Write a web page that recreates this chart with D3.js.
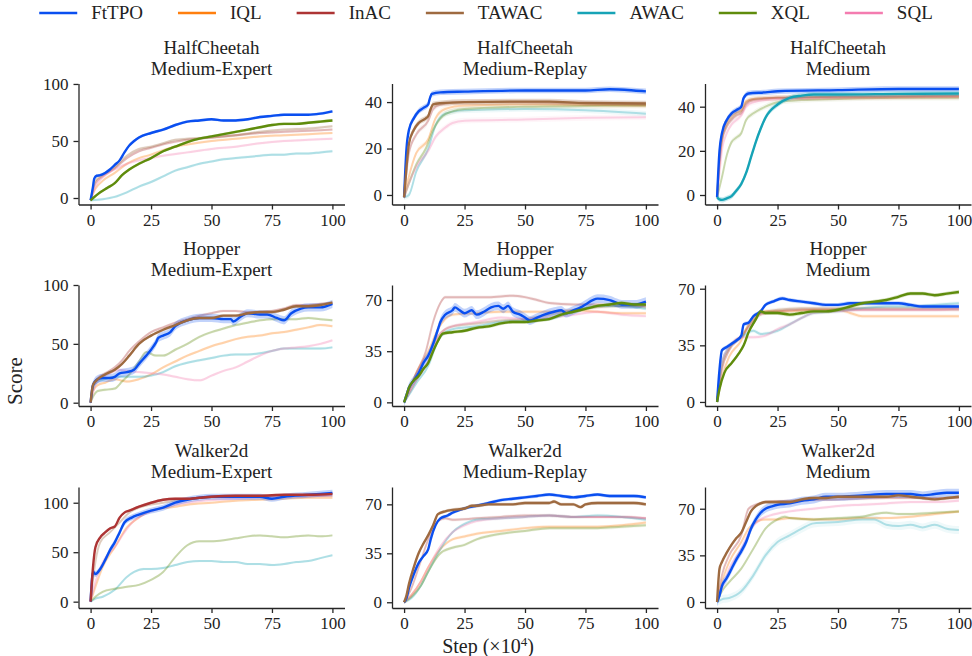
<!DOCTYPE html>
<html>
<head>
<meta charset="utf-8">
<script src="https://cdn.jsdelivr.net/npm/d3@7"></script>
<style>
  body { margin: 0; background: #fff; }
  svg { font-family: "Liberation Serif", "DejaVu Serif", serif; }
</style>
</head>
<body>
<div id="chart"></div>
<script>
// methods and their colours (same order as the legend)
const methods = ["FtTPO", "IQL", "InAC", "TAWAC", "AWAC", "XQL", "SQL"];
const colors = ["#0a4ff0", "#ff7f0e", "#ad3434", "#9e6a40", "#16a3b6", "#5f8c0c", "#f47cb0"];

const envs = ["HalfCheetah", "HalfCheetah", "HalfCheetah", "Hopper", "Hopper", "Hopper", "Walker2d", "Walker2d", "Walker2d"];
const datasets = ["Medium-Expert", "Medium-Replay", "Medium", "Medium-Expert", "Medium-Replay", "Medium", "Medium-Expert", "Medium-Replay", "Medium"];
// the baseline drawn solid next to FtTPO in each panel
const focus = ["XQL", "TAWAC", "AWAC", "TAWAC", "XQL", "XQL", "InAC", "TAWAC", "TAWAC"];
const xTicks = [0, 25, 50, 75, 100];
const yTicks = [[0, 50, 100], [0, 20, 40], [0, 20, 40], [0, 50, 100], [0, 35, 70], [0, 35, 70], [0, 50, 100], [0, 35, 70], [0, 35, 70]];

// [step (x1e4), score]
const hcMediumExpert = {
  FtTPO: [[0,-2],[1,10],[1.5,17],[2.5,19.5],[4,20],[6,22],[8,25],[10,29],[12,33],[14,40],[16,46],[18,50],[20,53],[25,57],[30,60],[35,64],[40,67],[45,68],[50,69],[55,68],[60,68],[65,69],[70,71],[75,72],[80,73],[85,73],[90,73],[95,74],[100,76]],
  IQL: [[0,-2],[2,8],[5,15],[10,22],[15,30],[20,35],[25,38],[30,42],[35,45],[40,47],[50,50],[60,52],[70,54],[80,55],[90,56],[100,57]],
  InAC: [[0,-2],[2,13],[5,19],[10,26],[15,35],[20,41],[25,44],[30,47],[40,51],[50,53],[60,55],[70,57],[80,58],[90,59],[100,60]],
  TAWAC: [[0,-2],[2,15],[5,20],[10,27],[15,37],[20,43],[25,45],[30,48],[35,51],[40,52],[50,53],[60,55],[70,58],[80,60],[90,61],[100,63]],
  AWAC: [[0,-2],[5,-1],[10,1],[15,5],[20,10],[25,14],[30,19],[35,24],[40,27],[45,30],[50,32],[55,34],[60,35],[65,36],[70,37],[75,38],[80,38],[85,39],[90,39],[95,40],[100,41]],
  XQL: [[0,-2],[4,5],[7,9],[10,13],[13,20],[16,25],[20,30],[25,35],[30,41],[35,45],[40,49],[45,52],[50,54],[55,56],[60,58],[65,60],[70,62],[75,64],[80,65],[85,65],[90,66],[95,67],[100,68]],
  SQL: [[0,-2],[2,10],[5,18],[10,25],[15,30],[20,33],[25,35],[30,37],[40,40],[50,43],[60,45],[70,48],[80,50],[90,51],[100,52]]
};
const hcMediumReplay = {
  FtTPO: [[0,-1],[1,20],[2,28],[4,33],[6,36],[8,37.5],[10,39],[10.5,41],[11.5,43.5],[15,44.2],[25,44.5],[50,45],[75,45],[85,45.5],[95,45],[100,44.6]],
  IQL: [[0,-1],[2,8],[5,18],[10,24],[13,33],[17,37],[25,38.5],[50,39],[75,38.8],[100,38.5]],
  InAC: [[0,-1],[1,10],[2,18],[5,26],[10,32],[12,37],[15,39],[25,40],[50,40],[75,39.5],[100,39]],
  TAWAC: [[0,-1],[1,12],[2,22],[4,28],[6,31],[9,33],[10,34],[11,37],[12,39],[15,39.5],[25,40],[50,40.2],[60,40.2],[75,39.6],[100,39.4]],
  AWAC: [[0,-1],[2,0],[5,10],[10,20],[13,30],[17,35],[25,36.5],[50,37],[75,36.5],[100,35]],
  XQL: [[0,-1],[2,5],[5,13],[9,20],[12,28],[16,34],[20,36],[25,37],[50,38],[75,38.3],[100,38.5]],
  SQL: [[0,-1],[2,5],[5,12],[10,19],[13,25],[17,29],[20,31],[25,32],[50,32.5],[75,33.2],[100,33.5]]
};
const hcMedium = {
  FtTPO: [[0,-1],[1,20],[2,28],[4,34],[6,37],[8,38.5],[10,40],[11,44],[13,46],[20,46.5],[25,47],[50,47.5],[75,48],[100,48]],
  IQL: [[0,-1],[1,16],[2,26],[4,33],[6,36],[8,37.5],[10,38.5],[12,42.5],[15,43.5],[25,44],[50,44.2],[100,44.5]],
  InAC: [[0,-1],[1,14],[2,24],[4,31],[6,34],[8,36],[10,37],[12,41],[15,43],[25,44],[50,44.5],[100,45]],
  TAWAC: [[0,-1],[1,15],[2,25],[4,32],[6,35],[8,37],[10,38],[12,42],[15,43.5],[25,44],[50,44.5],[100,45]],
  AWAC: [[0,-1],[1,-2],[2,-2.2],[4,-1.5],[6,-0.5],[8,2],[10,5],[12,10],[14,17],[16,24],[18,30],[20,35],[25,41],[30,44],[35,45],[40,45.5],[50,45.5],[75,45.8],[100,46]],
  XQL: [[0,-1],[2,8],[4,18],[6,24],[8,26],[10,28],[12,34],[15,37],[20,40],[25,42],[35,43],[50,43.5],[75,44],[100,44]],
  SQL: [[0,-1],[1,10],[2,20],[4,28],[6,32],[8,34],[10,36],[12,40],[15,42],[25,43.5],[50,44],[100,44.5]]
};
const hopperMediumExpert = {
  FtTPO: [[0,0],[1,15],[3,20],[5,21],[8,21],[10,22],[12,25],[15,26],[18,28],[20,33],[23,40],[25,45],[27,51],[28,55],[30,57],[33,60],[35,65],[40,70],[45,72],[50,72],[55,71],[58,71],[59,69],[62,73],[65,76],[70,75],[73,75],[77,72],[80,70],[83,76],[87,80],[90,81],[95,81],[100,84]],
  IQL: [[0,0],[1,10],[3,15],[6,17],[10,20],[15,18],[20,20],[25,24],[30,30],[35,35],[40,40],[45,44],[50,48],[55,51],[60,54],[65,56],[70,57],[75,59],[80,60],[85,62],[90,64],[95,66],[100,65]],
  InAC: [[0,0],[1,15],[3,21],[6,25],[10,30],[13,36],[16,44],[20,52],[25,60],[30,64],[35,68],[40,71],[45,74],[50,76],[55,78],[60,78],[65,77],[70,77],[75,78],[80,80],[85,83],[90,83],[95,84],[100,85]],
  TAWAC: [[0,0],[1,15],[3,20],[6,24],[10,28],[13,33],[16,40],[20,50],[25,57],[30,62],[35,66],[40,70],[45,72],[50,72],[55,74],[60,74],[65,76],[70,77],[75,77],[80,79],[85,82],[90,82],[95,83],[100,85]],
  AWAC: [[0,0],[1,12],[3,18],[6,20],[10,22],[15,22],[20,22],[25,23],[30,26],[35,31],[40,34],[45,36],[50,38],[55,40],[60,41],[65,41],[70,42],[75,44],[80,46],[85,46],[90,46],[95,46],[100,47]],
  XQL: [[0,0],[1,5],[3,10],[6,11],[10,12],[13,18],[16,24],[20,35],[23,43],[27,40],[30,40],[35,45],[40,50],[45,56],[50,60],[55,63],[60,66],[65,68],[70,70],[75,71],[80,71],[85,71],[90,72],[95,71],[100,70]],
  SQL: [[0,0],[2,15],[4,20],[8,25],[12,28],[15,27],[20,26],[25,25],[30,24],[35,22],[40,20],[45,19],[50,23],[55,27],[60,30],[65,35],[70,40],[75,44],[80,46],[85,47],[90,48],[95,50],[100,53]]
};
const hopperMediumReplay = {
  FtTPO: [[0,0],[1,5],[2,10],[4,15],[6,20],[8,27],[10,32],[12,40],[14,50],[15,55],[17,60],[20,63],[21,65],[23,63],[25,61],[28,63],[30,60],[33,62],[36,65],[39,66],[41,64],[43,66],[45,62],[48,60],[50,58],[52,56],[55,58],[58,60],[62,62],[65,63],[67,61],[70,63],[73,65],[75,67],[78,70],[80,71],[85,70],[88,68],[90,67],[95,67],[100,69]],
  IQL: [[0,0],[2,8],[5,20],[10,35],[14,50],[17,57],[20,60],[30,61],[40,62],[50,62],[60,62],[70,63],[80,62],[90,61],[100,61]],
  InAC: [[0,0],[2,8],[5,20],[9,35],[12,55],[15,68],[17,72],[25,72],[35,72],[45,73],[50,72],[55,70],[60,68],[70,67],[80,67],[90,66],[100,66]],
  TAWAC: [[0,0],[2,6],[5,15],[10,28],[14,45],[17,50],[20,52],[30,54],[40,56],[50,57],[60,60],[70,63],[80,65],[90,66],[100,65]],
  AWAC: [[0,0],[2,5],[5,13],[10,25],[14,42],[17,48],[20,50],[30,52],[40,55],[50,56],[60,57],[70,62],[80,66],[90,66],[100,64]],
  XQL: [[0,0],[1,5],[2,10],[4,15],[6,18],[8,23],[10,27],[12,35],[14,42],[16,47],[20,48],[25,49],[30,51],[35,52],[40,54],[45,55],[50,55],[55,56],[60,57],[65,60],[70,62],[75,64],[80,66],[85,67],[90,68],[95,67],[100,67]],
  SQL: [[0,0],[2,6],[5,15],[10,28],[14,45],[17,50],[20,52],[30,55],[40,58],[50,57],[60,58],[70,60],[80,62],[90,60],[100,59]]
};
const hopperMedium = {
  FtTPO: [[0,0],[1,20],[2,32],[4,34],[6,36],[8,38],[10,41],[11,48],[13,49],[15,53],[18,56],[20,60],[23,62],[27,64],[30,63],[35,62],[40,61],[45,60],[50,60],[55,61],[60,61],[65,61],[70,61],[75,61],[80,60],[85,59],[90,59],[95,59],[100,59]],
  IQL: [[0,0],[2,15],[5,28],[10,38],[13,48],[16,53],[20,56],[30,56],[40,57],[50,57],[55,55],[60,53],[70,53],[80,53],[90,53],[100,53]],
  InAC: [[0,0],[2,20],[5,32],[10,40],[14,48],[18,54],[25,56],[35,57],[50,57],[60,57],[70,57],[80,57],[90,57],[100,57]],
  TAWAC: [[0,0],[2,22],[5,33],[10,41],[14,49],[18,55],[25,57],[35,58],[50,58],[60,58],[70,58],[80,58],[90,58],[100,58]],
  AWAC: [[0,0],[2,25],[5,34],[10,40],[15,44],[18,42],[25,44],[30,48],[35,52],[40,55],[50,56],[60,58],[70,59],[80,59],[90,60],[100,61]],
  XQL: [[0,0],[1,8],[3,18],[6,24],[9,30],[11,35],[13,43],[16,51],[18,56],[20,55],[25,55],[30,54],[35,55],[40,56],[45,56],[50,57],[55,59],[60,61],[65,62],[70,63],[75,65],[80,67],[85,67],[90,66],[95,67],[100,68]],
  SQL: [[0,0],[2,25],[5,34],[10,40],[15,40],[20,41],[25,45],[30,48],[35,52],[40,55],[50,56],[60,57],[70,57],[80,57],[90,57],[100,58]]
};
const walkerMediumExpert = {
  FtTPO: [[0,0],[1,30],[2,28],[4,33],[6,42],[8,52],[10,60],[12,70],[14,80],[17,85],[20,88],[25,92],[30,95],[35,100],[40,103],[45,105],[50,106],[60,106],[70,106],[75,104],[80,106],[90,108],[100,110]],
  IQL: [[0,0],[2,15],[5,35],[10,55],[15,75],[20,85],[25,92],[35,96],[40,98],[50,100],[60,102],[70,103],[80,104],[90,105],[100,105]],
  InAC: [[0,0],[1,35],[2,55],[4,65],[6,70],[8,74],[10,76],[12,85],[14,90],[16,92],[20,96],[25,100],[30,103],[35,104],[40,104],[45,105],[50,106],[60,107],[70,107],[80,108],[90,108],[100,109]],
  TAWAC: [[0,0],[2,40],[4,60],[8,70],[12,80],[16,90],[20,95],[30,100],[40,104],[60,106],[80,107],[100,107]],
  AWAC: [[0,0],[2,3],[5,5],[10,12],[15,25],[18,30],[22,33],[25,33],[30,34],[35,37],[40,40],[45,41],[50,41],[55,40],[60,40],[65,38],[70,38],[75,37],[80,38],[85,40],[90,41],[95,44],[100,47]],
  XQL: [[0,0],[2,5],[5,10],[10,13],[15,15],[20,17],[25,22],[30,30],[35,45],[40,57],[45,61],[50,61],[55,62],[60,64],[65,66],[70,67],[75,66],[80,65],[85,66],[90,67],[95,66],[100,67]],
  SQL: [[0,0],[2,20],[5,40],[10,55],[14,70],[18,82],[22,88],[30,95],[40,100],[60,104],[80,106],[100,107]]
};
const walkerMediumReplay = {
  FtTPO: [[0,0],[1,3],[2,10],[4,20],[6,28],[8,33],[10,38],[11,45],[13,55],[15,60],[18,62],[20,64],[23,66],[27,68],[30,69],[35,71],[40,73],[45,74],[50,75],[55,76],[60,77],[65,76],[70,75],[75,76],[80,77],[85,76],[90,76],[95,76],[100,75]],
  IQL: [[0,0],[3,5],[7,15],[10,25],[15,38],[20,45],[25,47],[30,49],[40,51],[50,53],[60,54],[70,54],[80,54],[90,55],[100,57]],
  InAC: [[0,0],[3,10],[7,30],[10,45],[14,58],[17,60],[20,59],[30,60],[40,61],[50,62],[60,62],[70,61],[80,61],[90,61],[100,60]],
  TAWAC: [[0,0],[1,5],[2,13],[4,25],[6,35],[8,42],[10,48],[12,55],[14,63],[17,65],[20,66],[25,67],[28,69],[30,69],[35,70],[40,70],[45,70],[50,71],[55,71],[60,71],[62,72],[65,70],[70,70],[73,68],[75,70],[80,71],[85,71],[90,71],[95,71],[100,70]],
  AWAC: [[0,0],[3,3],[7,12],[10,22],[15,38],[20,50],[25,56],[30,59],[40,60],[50,61],[60,62],[70,61],[80,62],[90,61],[100,59]],
  XQL: [[0,0],[3,4],[7,12],[10,22],[15,35],[20,39],[25,41],[30,45],[40,49],[50,51],[60,53],[70,53],[80,53],[90,54],[100,55]],
  SQL: [[0,0],[3,5],[7,15],[10,25],[15,40],[20,50],[25,55],[30,58],[40,60],[50,61],[60,62],[70,61],[80,61],[90,61],[100,60]]
};
const walkerMedium = {
  FtTPO: [[0,0],[1,5],[2,12],[4,18],[6,25],[8,32],[10,38],[12,45],[14,55],[16,62],[18,67],[20,70],[23,72],[25,73],[30,74],[35,76],[40,77],[45,79],[50,79],[60,80],[70,81],[80,81],[85,80],[90,81],[95,82],[100,82]],
  IQL: [[0,0],[2,15],[5,30],[10,45],[13,55],[16,60],[20,62],[25,62],[30,63],[40,62],[50,62],[60,63],[70,63],[80,64],[90,66],[100,68]],
  InAC: [[0,0],[2,20],[5,35],[10,50],[13,70],[16,73],[20,75],[30,76],[50,77],[70,78],[90,78],[100,78]],
  TAWAC: [[0,0],[1,25],[2,30],[4,37],[6,43],[8,48],[10,52],[12,60],[14,68],[16,72],[18,74],[20,75],[25,75],[30,75],[35,77],[40,78],[45,78],[50,79],[60,79],[70,79],[75,80],[80,79],[85,78],[90,77],[95,78],[100,79]],
  AWAC: [[0,0],[2,2],[5,3],[10,8],[15,20],[20,35],[25,45],[30,50],[35,55],[40,59],[50,60],[60,62],[65,62],[70,58],[75,57],[80,58],[85,56],[90,58],[95,55],[100,54]],
  XQL: [[0,0],[2,8],[5,15],[10,25],[15,40],[20,55],[25,62],[28,64],[30,63],[40,62],[50,63],[60,64],[65,66],[70,67],[75,66],[80,66],[90,67],[100,68]],
  SQL: [[0,0],[2,10],[5,25],[10,40],[14,55],[18,62],[22,65],[30,68],[40,70],[50,72],[60,73],[70,74],[80,75],[90,75],[100,76]]
};
const panelData = [hcMediumExpert, hcMediumReplay, hcMedium, hopperMediumExpert, hopperMediumReplay, hopperMedium, walkerMediumExpert, walkerMediumReplay, walkerMedium];

// half-width of the shaded band (score units); anything not listed uses 1.2
const bandSd = [[3, "FtTPO", 3.5], [4, "FtTPO", 3], [6, "FtTPO", 3], [8, "FtTPO", 3], [8, "AWAC", 3]];

// ---- layout ----
const width = 972, height = 656;
const colLeft = [78.5, 392, 705], colW = 266;
const rowTop = [83.5, 285, 487], rowH = 121;
const yDomains = [[-5.7, 100.4], [-4.1, 48], [-4.3, 50.5], [-2.8, 100], [-2.5, 80.3], [-2.5, 72.3], [-6.4, 115.9], [-4.1, 82.4], [-4.5, 86.3]];
const axisColor = "#262626";

const svg = d3.select("#chart").append("svg")
  .attr("width", width)
  .attr("height", height);

const colorOf = d3.scaleOrdinal().domain(methods).range(colors);

panelData.forEach(function (data, i) {
  const col = i % 3, row = Math.floor(i / 3);
  const x = d3.scaleLinear().domain([-5, 105]).range([0, colW]);
  const y = d3.scaleLinear().domain(yDomains[i]).range([rowH, 0]);

  const g = svg.append("g")
    .attr("transform", "translate(" + colLeft[col] + "," + rowTop[row] + ")");

  // title, two lines
  const title = g.append("text")
    .attr("text-anchor", "middle")
    .attr("font-size", 19)
    .attr("fill", "#222");
  title.append("tspan").attr("x", colW / 2).attr("y", -30).text(envs[i]);
  title.append("tspan").attr("x", colW / 2).attr("y", -9).text(datasets[i]);

  const line = d3.line()
    .x(d => x(d[0]))
    .y(d => y(d[1]))
    .curve(d3.curveMonotoneX);

  function sdFor(name) {
    const hit = bandSd.find(b => b[0] === i && b[1] === name);
    return hit ? hit[2] : 1.2;
  }
  const area = function (sd) {
    return d3.area()
      .x(d => x(d[0]))
      .y0(d => y(d[1] - sd))
      .y1(d => y(d[1] + sd))
      .curve(d3.curveMonotoneX);
  };

  // faded baselines first, then FtTPO, then the highlighted baseline
  const order = methods.filter(m => m !== "FtTPO" && m !== focus[i]).concat(["FtTPO", focus[i]]);
  order.forEach(function (m) {
    const strong = (m === "FtTPO" || m === focus[i]);
    const pts = data[m];
    g.append("path")
      .datum(pts)
      .attr("fill", colorOf(m))
      .attr("fill-opacity", strong ? 0.25 : 0.07)
      .attr("d", area(sdFor(m)));
    g.append("path")
      .datum(pts)
      .attr("fill", "none")
      .attr("stroke", colorOf(m))
      .attr("stroke-opacity", strong ? 1 : 0.3)
      .attr("stroke-width", strong ? 2.4 : 2)
      .attr("stroke-linejoin", "round")
      .attr("d", line);
  });

  const yAxis = g.append("g")
    .call(d3.axisLeft(y).tickValues(yTicks[i]).tickSize(5).tickSizeOuter(0).tickPadding(5));
  const xAxis = g.append("g")
    .attr("transform", "translate(0," + rowH + ")")
    .call(d3.axisBottom(x).tickValues(xTicks).tickSize(5).tickSizeOuter(0).tickPadding(4));

  [yAxis, xAxis].forEach(function (ax) {
    ax.select(".domain").attr("stroke", axisColor).attr("stroke-width", 1.3);
    ax.selectAll(".tick line").attr("stroke", axisColor).attr("stroke-width", 1.3);
    ax.selectAll(".tick text")
      .attr("fill", "#222")
      .attr("font-size", 17)
      .attr("font-family", "Liberation Serif, serif");
  });
});

// axis labels shared by the grid
svg.append("text")
  .attr("transform", "translate(22,381) rotate(-90)")
  .attr("text-anchor", "middle")
  .attr("font-size", 21)
  .attr("fill", "#222")
  .text("Score");

const xl = svg.append("text")
  .attr("x", 488)
  .attr("y", 653)
  .attr("text-anchor", "middle")
  .attr("font-size", 20)
  .attr("fill", "#222");
xl.append("tspan").text("Step (\u00d710");
xl.append("tspan").attr("dy", -7).attr("font-size", 13).text("4");
xl.append("tspan").attr("dy", 7).text(")");

// legend across the top, centred
const legend = svg.append("g");
let cursor = 0;
methods.forEach(function (m, k) {
  const item = legend.append("g").attr("transform", "translate(" + cursor + ",0)");
  item.append("line")
    .attr("x1", 0).attr("x2", 38)
    .attr("y1", 0).attr("y2", 0)
    .attr("stroke", colors[k])
    .attr("stroke-width", 2.6);
  const t = item.append("text")
    .attr("x", 52)
    .attr("y", 6)
    .attr("font-size", 19)
    .attr("fill", "#222")
    .text(m);
  cursor += 52 + t.node().getComputedTextLength() + 35;
});
cursor -= 35;
legend.attr("transform", "translate(" + (width / 2 - cursor / 2) + ",13)");
</script>
</body>
</html>
